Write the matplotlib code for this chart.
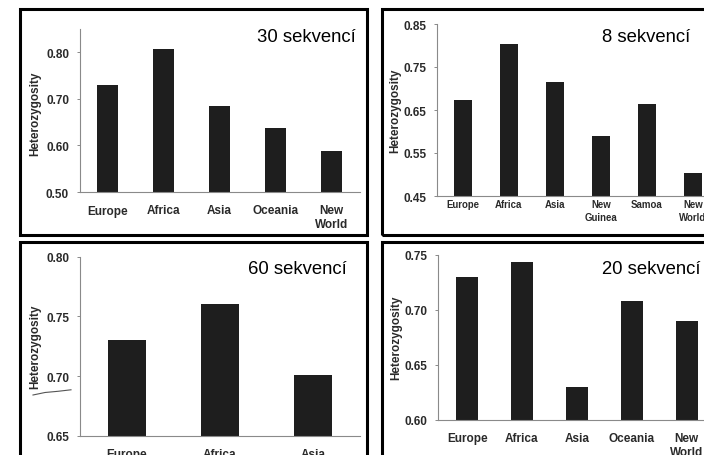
import matplotlib
matplotlib.use("Agg")
import matplotlib.pyplot as plt
from matplotlib.patches import Rectangle
from matplotlib.lines import Line2D

# ---------------------------
# Heterozygosity per region, four sample sizes
# ---------------------------
regions_30 = ["Europe", "Africa", "Asia", "Oceania", "New\nWorld"]
het_30 = [0.730, 0.807, 0.684, 0.637, 0.589]
ticks_30 = [0.50, 0.60, 0.70, 0.80]

regions_8 = ["Europe", "Africa", "Asia", "New\nGuinea", "Samoa", "New\nWorld"]
het_8 = [0.673, 0.803, 0.716, 0.590, 0.664, 0.504]
ticks_8 = [0.45, 0.55, 0.65, 0.75, 0.85]

regions_60 = ["Europe", "Africa", "Asia"]
het_60 = [0.730, 0.760, 0.701]
ticks_60 = [0.65, 0.70, 0.75, 0.80]

regions_20 = ["Europe", "Africa", "Asia", "Oceania", "New\nWorld"]
het_20 = [0.730, 0.744, 0.630, 0.708, 0.690]
ticks_20 = [0.60, 0.65, 0.70, 0.75]

W, H = 704, 456
BAR = "#1e1e1e"
AXIS = "#8a8a8a"
TXT = "#2a2a2a"

plt.rcParams["font.family"] = ["Liberation Sans", "DejaVu Sans"]

fig = plt.figure(figsize=(W / 100, H / 100), dpi=100)
fig.patch.set_facecolor("white")


def px_axes(x0, y0, x1, y1):
    """Add axes from pixel corners (origin top-left)."""
    return fig.add_axes([x0 / W, 1 - y1 / H, (x1 - x0) / W, (y1 - y0) / H])


def draw_panel(box, ylim, xlim, cats, vals, yticks, width, cat_size, cat_pad,
               linespacing, ylabel_xy, title, title_xy):
    ax = px_axes(*box)
    x = list(range(len(cats)))
    ax.bar(x, vals, width=width, color=BAR, edgecolor="none", zorder=2)
    ax.set_xlim(*xlim)
    ax.set_ylim(*ylim)
    ax.set_yticks(yticks)
    ax.set_yticklabels([f"{t:.2f}" for t in yticks], fontsize=8.5,
                       fontweight="bold", color=TXT)
    ax.set_xticks(x)
    ax.set_xticklabels(cats, fontsize=cat_size, fontweight="bold", color=TXT,
                       linespacing=linespacing)
    ax.tick_params(axis="x", length=0, pad=cat_pad)
    ax.tick_params(axis="y", length=2.5, width=0.7, color=AXIS, pad=5)
    for side in ("top", "right"):
        ax.spines[side].set_visible(False)
    for side in ("left", "bottom"):
        ax.spines[side].set_color(AXIS)
        ax.spines[side].set_linewidth(0.8)
    ax.patch.set_alpha(0)
    fig.text(ylabel_xy[0] / W, 1 - ylabel_xy[1] / H, "Heterozygosity",
             rotation=90, ha="center", va="center", fontsize=8.5,
             fontweight="bold", color=TXT)
    fig.text(title_xy[0] / W, 1 - title_xy[1] / H, title, ha="left",
             va="center", fontsize=13.3, color="black")
    return ax


# panel frames
for x0, y0, x1, y1 in [(19.5, 10, 366.7, 236), (381.7, 10, 712, 236),
                       (19.5, 242.7, 366.7, 470), (381.7, 242.7, 712, 470)]:
    fig.add_artist(Rectangle((x0 / W, 1 - y1 / H), (x1 - x0) / W, (y1 - y0) / H,
                             transform=fig.transFigure, fill=False,
                             edgecolor="black", linewidth=2.2, zorder=5))

draw_panel((79.5, 30.2, 359.5, 193), (0.50, 0.85), (-0.5, 4.5),
           regions_30, het_30, ticks_30, 0.39, 8.5, 9, 1.15,
           (35, 113.5), "30 sekvencí", (257, 37))

draw_panel((436.7, 25, 716, 197), (0.45, 0.85), (-0.57, 5.5),
           regions_8, het_8, ticks_8, 0.39, 6.9, 2.5, 1.35,
           (395, 111), "8 sekvencí", (602, 37))

ax60 = draw_panel((80, 257.7, 360, 436.7), (0.65, 0.80), (-0.5, 2.5),
                  regions_60, het_60, ticks_60, 0.41, 8.5, 9, 1.15,
                  (35, 347), "60 sekvencí", (248, 270))

draw_panel((438, 256, 714, 420.7), (0.60, 0.75), (-0.53, 4.5),
           regions_20, het_20, ticks_20, 0.40, 8.5, 9, 1.15,
           (396, 338), "20 sekvencí", (602, 270))

# stray pen stroke under the bottom-left axis label
fig.add_artist(Line2D([33 / W, 45 / W, 58 / W, 71 / W],
                      [1 - 396 / H, 1 - 393.5 / H, 1 - 392.3 / H, 1 - 390.8 / H],
                      transform=fig.transFigure, color="#555555", linewidth=0.8))

fig.savefig("out.png", dpi=100)
